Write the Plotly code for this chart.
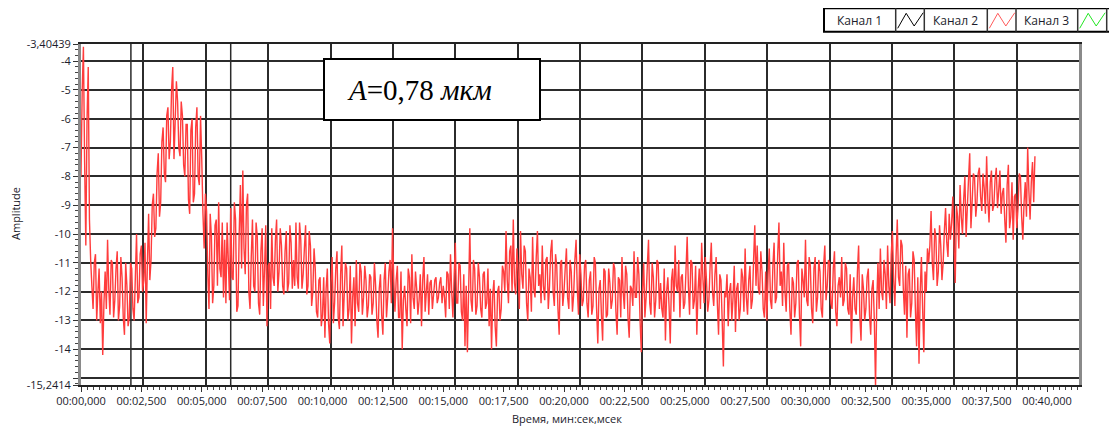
import plotly.graph_objects as go

# ---------------- data ----------------
sample_step_s = 0.1  # seconds between the main readings
# readings at t = 0.0, 0.1, 0.2, ...
channel2_amplitude = [
    -8.0, -3.5, -10.4, -4.2, -10.9, -12.6, -10.7, -12.0, -13.1, -14.2,
    -11.3, -10.2, -12.8, -11.0, -12.3, -10.6, -12.5, -11.5, -13.5, -11.8,
    -12.9, -11.2, -13.0, -10.0, -12.2, -10.4, -11.6, -13.1, -9.3, -10.9,
    -8.6, -9.8, -7.2, -8.9, -6.3, -8.2, -5.6, -6.8, -4.2, -6.1,
    -5.4, -7.3, -5.9, -8.0, -6.2, -9.3, -6.0, -8.6, -5.6, -8.3,
    -7.4, -10.5, -9.2, -12.6, -10.1, -11.8, -9.5, -8.9, -11.5, -12.2,
    -12.4, -10.9, -9.1, -11.6, -9.5, -12.5, -8.3, -7.8, -11.4, -8.6,
    -12.6, -9.5, -12.0, -10.1, -12.8, -9.8, -11.2, -13.2, -11.0, -9.8,
    -11.8, -9.5, -11.3, -10.4, -12.1, -9.9, -11.7, -10.3, -10.9, -9.6,
    -11.9, -10.2, -11.4, -9.7, -11.8, -10.4, -12.0, -11.2, -12.9, -11.5,
    -12.8, -13.6, -11.2, -13.8, -10.8, -12.4, -10.6, -13.3, -10.4, -12.1,
    -11.2, -12.6, -13.8, -11.5, -10.9, -12.7, -11.3, -12.2, -11.6, -12.5,
    -11.5, -12.4, -11.8, -13.6, -11.4, -13.5, -11.0, -12.2, -10.9, -9.8,
    -12.7, -11.1, -12.9, -14.0, -11.8, -13.2, -11.5, -10.7, -12.6, -11.9,
    -12.3, -13.2, -10.8, -12.0, -12.8, -11.6, -12.1, -11.5, -12.2, -11.5,
    -11.8, -12.9, -11.4, -10.7, -12.9, -10.3, -12.4, -11.1, -13.0, -13.9,
    -14.1, -9.8, -12.7, -11.2, -12.5, -11.5, -12.9, -11.3, -12.4, -13.2,
    -14.0, -11.6, -13.9, -11.8, -12.6, -11.3, -9.9, -12.4, -10.4, -9.5,
    -12.1, -11.3, -9.9, -11.9, -10.6, -13.0, -11.5, -10.1, -12.2, -9.9,
    -11.4, -10.4, -12.3, -10.8, -11.8, -10.2, -12.5, -11.1, -13.5, -10.9,
    -12.0, -10.5, -12.6, -11.3, -12.1, -10.2, -12.8, -11.4, -12.3, -10.9,
    -12.9, -11.3, -12.5, -11.0, -13.8, -11.6, -13.7, -11.3, -12.8, -11.7,
    -12.3, -11.2, -13.5, -11.6, -10.8, -12.6, -11.4, -13.6, -11.9, -10.6,
    -12.2, -11.4, -14.1, -11.0, -12.2, -10.2, -12.8, -11.5, -12.3, -11.0,
    -11.7, -12.9, -13.7, -11.5, -13.8, -11.2, -10.4, -12.0, -12.9, -11.4,
    -12.4, -10.1, -12.8, -11.0, -12.3, -13.5, -11.2, -10.3, -12.4, -11.6,
    -12.3, -10.3, -12.5, -10.8, -13.5, -11.6, -14.6, -12.2, -13.2, -11.7,
    -12.2, -13.4, -11.7, -12.6, -11.5, -10.5, -12.8, -11.1, -12.3, -9.7,
    -10.4, -12.1, -11.3, -12.9, -13.0, -10.5, -12.6, -10.3, -12.2, -9.6,
    -11.3, -10.3, -12.7, -11.0, -13.5, -11.7, -12.4, -10.9, -13.9, -11.6,
    -10.2, -12.5, -11.1, -13.1, -10.8, -12.2, -11.3, -12.9, -10.4, -11.8,
    -11.0, -12.6, -10.6, -13.2, -11.5, -10.8, -12.3, -11.2, -12.8, -13.8,
    -11.5, -12.8, -10.4, -13.7, -11.9, -12.6, -11.2, -13.5, -11.6, -15.3,
    -11.0, -10.5, -12.3, -11.4, -10.4, -12.4, -9.9, -12.5, -9.5, -11.8,
    -10.4, -12.8, -13.6, -11.2, -12.4, -10.9, -13.9, -14.5, -10.8, -14.1,
    -12.0, -11.0, -9.2, -11.6, -10.1, -11.3, -10.4, -11.0, -9.1, -10.8,
    -10.2, -8.7, -11.7, -9.4, -8.3, -10.0, -8.0, -9.1, -7.2, -8.9,
    -8.0, -8.9, -7.7, -9.2, -8.4, -7.3, -9.6, -7.8, -9.0, -7.7,
    -8.5, -9.3, -8.4, -10.3, -7.6, -9.4, -10.2, -8.6, -9.1, -8.0,
    -10.2, -8.2, -7.0, -9.5, -7.5, -7.3,
]
# readings halfway between them, at t = 0.05, 0.15, 0.25, ...
channel2_amplitude_mid = [
    -5.0, -7.5, -6.0, -9.5, -11.8, -11.0, -13.0, -11.2, -12.0, -12.4,
    -12.6, -11.9, -10.9, -12.9, -11.2, -13.0, -10.8, -12.9, -11.0, -13.2,
    -11.0, -12.6, -11.5, -12.4, -10.7, -12.0, -10.3, -11.0, -11.6, -9.0,
    -10.1, -7.9, -9.4, -6.8, -7.9, -5.9, -7.4, -5.0, -7.4, -4.7,
    -7.0, -5.4, -7.6, -6.2, -8.8, -6.4, -8.9, -6.3, -8.0, -5.9,
    -9.3, -8.6, -11.4, -9.3, -12.4, -9.7, -11.8, -11.2, -9.6, -10.2,
    -9.6, -12.3, -11.5, -8.9, -12.7, -10.0, -11.2, -10.5, -9.0, -12.0,
    -10.8, -11.8, -9.6, -12.4, -10.6, -12.5, -9.7, -11.1, -12.6, -11.5,
    -10.2, -12.0, -9.8, -11.8, -10.6, -12.0, -9.7, -11.9, -11.8, -11.5,
    -9.6, -11.9, -10.5, -12.1, -9.9, -12.5, -10.5, -12.7, -11.6, -13.2,
    -11.5, -11.9, -13.1, -11.7, -13.1, -11.2, -12.9, -11.4, -13.2, -11.0,
    -13.0, -11.1, -12.2, -13.2, -12.4, -11.0, -12.8, -11.1, -12.9, -11.4,
    -12.8, -11.0, -13.0, -11.9, -12.8, -11.6, -12.9, -11.3, -12.4, -11.6,
    -11.6, -12.9, -11.3, -12.3, -12.6, -11.2, -13.1, -12.2, -11.3, -12.8,
    -11.4, -11.6, -12.7, -11.4, -11.7, -12.6, -11.6, -12.4, -11.7, -12.4,
    -12.2, -11.3, -12.6, -12.0, -11.5, -12.4, -11.0, -12.7, -11.4, -11.8,
    -12.0, -12.3, -10.9, -12.8, -11.0, -12.6, -11.4, -12.6, -11.2, -11.9,
    -12.1, -13.2, -12.0, -13.0, -11.1, -12.0, -11.6, -10.6, -12.0, -11.7,
    -10.5, -12.6, -11.4, -10.4, -12.4, -11.2, -12.7, -11.9, -10.8, -11.8,
    -12.4, -11.8, -10.9, -12.6, -10.6, -12.0, -10.7, -12.6, -11.0, -12.5,
    -11.2, -12.2, -10.9, -12.7, -10.9, -11.9, -10.7, -12.5, -11.1, -12.4,
    -11.6, -12.8, -10.8, -12.6, -11.9, -12.8, -11.2, -12.9, -11.2, -12.6,
    -11.0, -12.7, -11.5, -12.9, -12.0, -11.1, -12.9, -11.8, -12.5, -12.2,
    -10.8, -13.0, -12.0, -12.9, -11.1, -12.4, -11.0, -12.9, -10.9, -12.6,
    -12.6, -11.2, -12.0, -12.5, -11.6, -12.7, -11.8, -10.9, -11.5, -12.6,
    -11.3, -11.8, -10.9, -12.6, -11.1, -12.0, -12.6, -11.5, -10.8, -12.7,
    -11.1, -12.0, -11.4, -12.4, -11.4, -13.0, -12.0, -11.4, -12.0, -13.0,
    -11.1, -11.9, -13.0, -11.2, -12.7, -12.2, -11.6, -12.6, -10.9, -11.8,
    -11.9, -10.6, -12.6, -11.3, -11.4, -12.3, -11.1, -12.4, -10.7, -11.8,
    -12.5, -12.0, -11.1, -12.6, -11.5, -12.9, -11.0, -12.8, -11.2, -12.2,
    -12.3, -10.8, -12.6, -11.2, -12.7, -10.9, -12.6, -11.1, -12.3, -10.9,
    -12.4, -11.2, -12.7, -11.8, -12.2, -12.5, -11.0, -12.6, -11.4, -12.2,
    -12.6, -11.3, -12.9, -11.4, -13.0, -11.5, -12.8, -11.9, -13.0, -12.4,
    -12.6, -12.0, -10.9, -12.6, -11.8, -10.7, -11.6, -10.8, -11.5, -10.2,
    -11.9, -11.1, -11.4, -12.9, -10.6, -12.6, -11.5, -12.0, -12.6, -11.3,
    -10.5, -10.4, -11.0, -9.8, -11.8, -9.7, -11.6, -9.9, -10.3, -9.3,
    -9.6, -10.4, -9.0, -10.5, -9.4, -8.8, -10.1, -8.1, -9.8, -7.9,
    -9.4, -7.9, -8.7, -7.9, -9.3, -8.8, -8.2, -9.2, -8.1, -9.1,
    -7.8, -8.6, -9.5, -8.3, -9.8, -8.2, -8.7, -9.8, -7.9, -9.4,
    -8.9, -9.4, -8.5, -8.2, -8.9,
]

x_tick_values = [0, 2.5, 5, 7.5, 10, 12.5, 15, 17.5, 20, 22.5, 25, 27.5, 30, 32.5, 35, 37.5, 40]
x_tick_labels = ["00:00,000", "00:02,500", "00:05,000", "00:07,500", "00:10,000", "00:12,500",
                 "00:15,000", "00:17,500", "00:20,000", "00:22,500", "00:25,000", "00:27,500",
                 "00:30,000", "00:32,500", "00:35,000", "00:37,500", "00:40,000"]
y_min, y_max = -15.2414, -3.40439
y_tick_values = [-3.40439, -4, -5, -6, -7, -8, -9, -10, -11, -12, -13, -14, -15, -15.2414]
y_tick_labels = ["-3,40439", "-4", "-5", "-6", "-7", "-8", "-9", "-10", "-11", "-12", "-13", "-14", "", "-15,2414"]
legend_names = ["Канал 1", "Канал 2", "Канал 3"]
legend_colors = ["#000000", "#ff5a5a", "#22e622"]
cursor_positions = [2.0, 6.0]
annotation_text = "<i>A</i>=0,78 <i>мкм</i>"

# merge the two sets of readings in time order
time_s, amplitude = [], []
for i, v in enumerate(channel2_amplitude):
    time_s.append(round(i * sample_step_s, 3))
    amplitude.append(v)
    if i < len(channel2_amplitude_mid):
        time_s.append(round(i * sample_step_s + sample_step_s / 2, 3))
        amplitude.append(channel2_amplitude_mid[i])

# ---------------- layout helpers (page pixel coordinates) ----------------
BODY = 8  # default page margin around the plot div
W_PAGE, H_PAGE = 1117, 430
L, T, R, B = 81, 44, 1079, 385
PW, PH = R - L, B - T


def px(x):
    return (x - L) / PW


def py(y):
    return (B - y) / PH


FONT = "Open Sans, DejaVu Sans, sans-serif"
GRID = "#2b2b2b"
TXT = "#1c1c2c"

fig = go.Figure()
fig.add_trace(go.Scatter(
    x=time_s, y=amplitude, mode="lines", name=legend_names[1],
    line=dict(color="#ff3c3c", width=1.4, simplify=False), showlegend=False, hoverinfo="skip",
))
# invisible trace so the grid axis is rendered
fig.add_trace(go.Scatter(x=[0, 40], y=[y_min, y_min], xaxis="x2", mode="lines",
                         line=dict(width=0), showlegend=False, hoverinfo="skip"))

shapes = []
for c in cursor_positions:
    shapes.append(dict(type="line", xref="x2", yref="paper", x0=c, x1=c, y0=0, y1=1,
                       line=dict(color=GRID, width=1.5), layer="below"))

# annotation box
shapes.append(dict(type="rect", xref="paper", yref="paper", x0=px(324), x1=px(540), y0=py(120), y1=py(59),
                   fillcolor="white", line=dict(color="black", width=2), layer="above"))

# legend (LabVIEW style: text cell followed by icon cell)
cells = [824, 895.7, 924.3, 987.3, 1016, 1077.7, 1106.7]
shapes.append(dict(type="rect", xref="paper", yref="paper", x0=px(824), x1=px(1125), y0=py(31.7), y1=py(8.3),
                   fillcolor="white", line=dict(color="black", width=2), layer="above"))
for cx in cells[1:]:
    shapes.append(dict(type="line", xref="paper", yref="paper", x0=px(cx), x1=px(cx), y0=py(31.7), y1=py(8.3),
                       line=dict(color="#333", width=1.5), layer="above"))
annotations = []
for i, name in enumerate(legend_names):
    tx0, tx1 = cells[2 * i], cells[2 * i + 1]
    ix0 = tx1
    annotations.append(dict(text=name, x=px((tx0 + tx1) / 2), y=py(20), xref="paper", yref="paper",
                            showarrow=False, xanchor="center", yanchor="middle",
                            font=dict(family=FONT, size=12, color=TXT)))
    zx = [ix0 + 2, ix0 + 10.5, ix0 + 18.5, ix0 + 27.5]
    zy = [28.3, 13.3, 26, 12.7]
    path = "M {},{} L {},{} L {},{} L {},{}".format(
        px(zx[0]), py(zy[0]), px(zx[1]), py(zy[1]), px(zx[2]), py(zy[2]), px(zx[3]), py(zy[3]))
    shapes.append(dict(type="path", xref="paper", yref="paper", path=path,
                       line=dict(color=legend_colors[i], width=1), layer="above"))

annotations.append(dict(text=annotation_text, x=px(345), y=py(90), xref="paper", yref="paper",
                        showarrow=False, xanchor="left", yanchor="middle",
                        font=dict(family="Liberation Serif, Times New Roman, serif", size=29, color="black")))
annotations.append(dict(text="Время, мин:сек,мсек", x=px(567), y=py(419), xref="paper", yref="paper",
                        showarrow=False, xanchor="center", yanchor="middle",
                        font=dict(family=FONT, size=11, color=TXT)))
annotations.append(dict(text="Amplitude", x=px(15), y=py(214), xref="paper", yref="paper",
                        showarrow=False, xanchor="center", yanchor="middle", textangle=-90,
                        font=dict(family=FONT, size=11, color=TXT)))

fig.update_layout(
    width=W_PAGE - BODY, height=H_PAGE - BODY,
    margin=dict(l=L - BODY, r=W_PAGE - R, t=T - BODY, b=H_PAGE - B, pad=0),
    paper_bgcolor="white", plot_bgcolor="white",
    font=dict(family=FONT, size=11, color=TXT),
    showlegend=False,
    xaxis=dict(
        range=[0, (R - L) / 24.15], tickmode="array", tickvals=x_tick_values, ticktext=x_tick_labels,
        showgrid=False, zeroline=False, showline=True, linecolor="#222", linewidth=1.5, mirror=True,
        ticks="outside", ticklen=5, tickcolor="#333", tickwidth=1,
        minor=dict(dtick=0.25, tick0=0, ticks="outside", ticklen=3, tickcolor="#444", showgrid=False),
        tickfont=dict(size=11, family=FONT, color=TXT),
    ),
    xaxis2=dict(
        range=[0, 40], overlaying="x", anchor="y", side="top", dtick=2.5, tick0=0,
        showgrid=True, gridcolor=GRID, gridwidth=1.5, showticklabels=False, ticks="",
        showline=False, zeroline=False,
    ),
    yaxis=dict(
        range=[y_min, y_max], tickmode="array", tickvals=y_tick_values, ticktext=y_tick_labels,
        showgrid=True, gridcolor=GRID, gridwidth=1.5, zeroline=False,
        showline=True, linecolor="#8a8a8a", linewidth=3, mirror=True,
        ticks="outside", ticklen=5, tickcolor="#333",
        minor=dict(dtick=0.2, tick0=-15, ticks="outside", ticklen=3, tickcolor="#444", showgrid=False),
        tickfont=dict(size=11, family=FONT, color=TXT),
    ),
    shapes=shapes,
    annotations=annotations,
)

fig.write_html("out.html")
